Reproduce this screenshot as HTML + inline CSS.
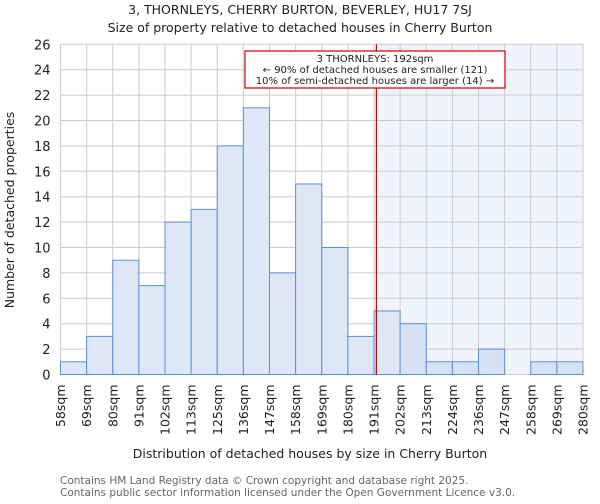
<!DOCTYPE html>
<html><head><meta charset="utf-8"><style>
body{margin:0;background:#fff;font-family:"DejaVu Sans","Liberation Sans",sans-serif}
</style></head><body>
<svg width="600" height="500" xmlns="http://www.w3.org/2000/svg" font-family="DejaVu Sans, Liberation Sans, sans-serif">
<text x="300" y="14" text-anchor="middle" font-size="12.5" fill="#222">3, THORNLEYS, CHERRY BURTON, BEVERLEY, HU17 7SJ</text>
<text x="300" y="32" text-anchor="middle" font-size="12.5" fill="#222">Size of property relative to detached houses in Cherry Burton</text>
<g id="plot"></g>
<text x="310" y="458" text-anchor="middle" font-size="12.5" fill="#222">Distribution of detached houses by size in Cherry Burton</text>
<text transform="translate(14,210) rotate(-90)" text-anchor="middle" font-size="12.5" fill="#222">Number of detached properties</text>
<text x="60" y="484" font-size="10.5" fill="#666">Contains HM Land Registry data © Crown copyright and database right 2025.</text>
<text x="60" y="496" font-size="10.5" fill="#666">Contains public sector information licensed under the Open Government Licence v3.0.</text>
</svg>
<script>
const binLabels=["58sqm","69sqm","80sqm","91sqm","102sqm","113sqm","125sqm","136sqm","147sqm","158sqm","169sqm","180sqm","191sqm","202sqm","213sqm","224sqm","236sqm","247sqm","258sqm","269sqm","280sqm"];
const binEdges=[58,69,80,91,102,113,125,136,147,158,169,180,191,202,213,224,236,247,258,269,280];
const counts=[1,3,9,7,12,13,18,21,8,15,10,3,5,4,1,1,2,0,1,1];
const yTicks=[0,2,4,6,8,10,12,14,16,18,20,22,24,26];
const propertySize=192;
const annotationLines=["3 THORNLEYS: 192sqm","← 90% of detached houses are smaller (121)","10% of semi-detached houses are larger (14) →"];
const NS="http://www.w3.org/2000/svg";
const L=60.5,R=583,T=44.3,B=374.5,yMax=26;
const nb=counts.length,bw=(R-L)/nb;
const xIdx=i=>L+i*bw;
function xVal(v){for(let i=0;i<binEdges.length-1;i++){if(v<=binEdges[i+1])return xIdx(i)+(v-binEdges[i])/(binEdges[i+1]-binEdges[i])*bw;}return R;}
const y=v=>B-(v/yMax)*(B-T);
const g=document.getElementById('plot');
function mk(t,a){const e=document.createElementNS(NS,t);for(const k in a)e.setAttribute(k,a[k]);g.appendChild(e);return e;}
const mx=xVal(propertySize);
let e=mk('rect',{x:mx,y:T,width:R-mx,height:B-T,fill:'#f1f4fc'});


yTicks.forEach(v=>{let l=mk('line',{x1:L,x2:R,y1:y(v),y2:y(v),stroke:'#ccc','stroke-width':1});


let t=mk('text',{x:L-10,y:y(v)+5,'text-anchor':'end','font-size':13,fill:'#222'});t.textContent=v;

});
binLabels.forEach((s,i)=>{let l=mk('line',{x1:xIdx(i),x2:xIdx(i),y1:T,y2:B,stroke:'#ccc','stroke-width':1});


let t=mk('text',{transform:`translate(${xIdx(i)+4.5},${B+10}) rotate(-90)`,'text-anchor':'end','font-size':12.5,fill:'#222'});t.textContent=s;

});
counts.forEach((c,i)=>{if(c<=0)return;const x0=xIdx(i);const inHi=x0>=mx-1;
let r=mk('rect',{x:x0,y:y(c),width:bw,height:B-y(c),fill:inHi?'#d6e1f3':'#dde7f5',stroke:'#5b8fd6','stroke-width':1});

});
e=mk('line',{x1:mx,x2:mx,y1:T,y2:B,stroke:'#c00','stroke-width':1.2});


e=mk('rect',{x:245,y:51,width:260,height:37,fill:'#fff',stroke:'#c00','stroke-width':1.2});


annotationLines.forEach((s,i)=>{let t=mk('text',{x:375,y:62+i*11,'text-anchor':'middle','font-size':10,fill:'#222'});t.textContent=s;

});
</script>
</body></html>
